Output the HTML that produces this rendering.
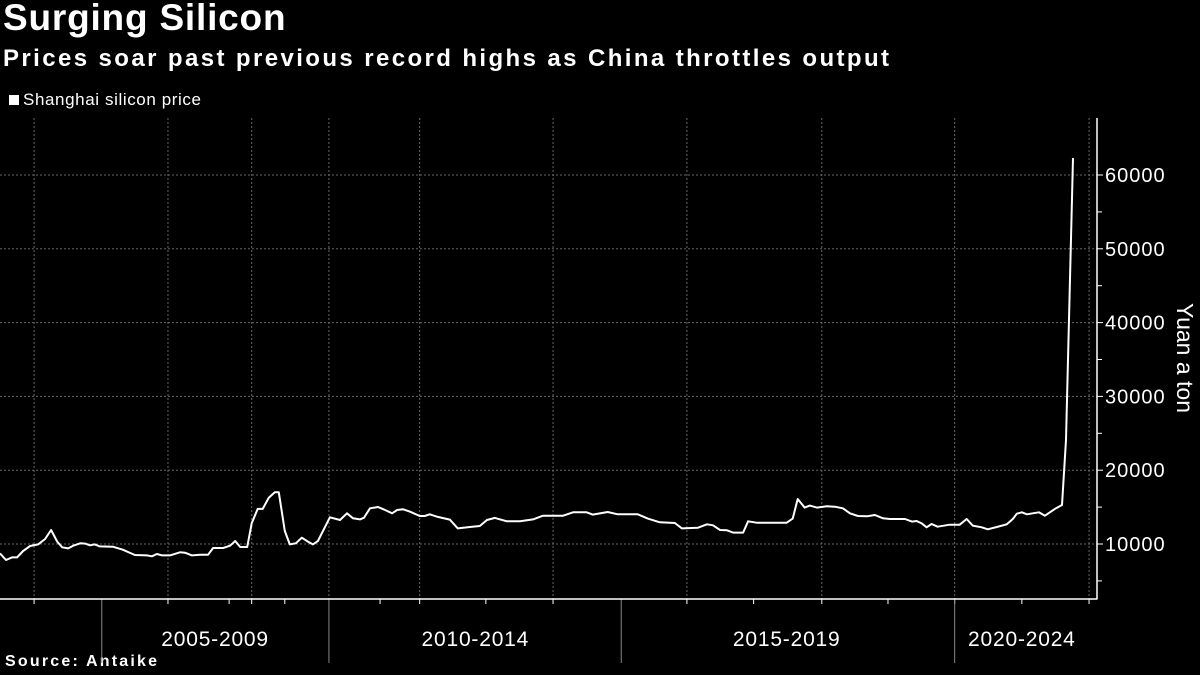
<!DOCTYPE html>
<html><head><meta charset="utf-8"><style>
html,body{margin:0;padding:0;background:#000;}
body{width:1200px;height:675px;overflow:hidden;font-family:"Liberation Sans",sans-serif;color:#fff;position:relative;}
.t{position:absolute;white-space:nowrap;}
</style></head><body>
<div class="t" style="left:3px;top:-3px;font-size:37px;font-weight:bold;letter-spacing:0.8px;">Surging Silicon</div>
<div class="t" style="left:3px;top:45px;font-size:24px;font-weight:bold;letter-spacing:2.4px;">Prices soar past previous record highs as China throttles output</div>
<div class="t" style="left:9px;top:90px;font-size:17px;letter-spacing:0.6px;"><span style="display:inline-block;width:10px;height:10px;background:#fff;margin-right:4px;"></span>Shanghai silicon price</div>
<div class="t" style="left:5px;top:653px;font-size:16px;font-weight:bold;letter-spacing:2.2px;">Source: Antaike</div>
<svg id="chart" width="1200" height="675" style="position:absolute;left:0;top:0;"></svg>
<script>
const dates=[2002.80,2002.92,2003.04,2003.14,2003.26,2003.40,2003.56,2003.70,2003.82,2003.94,2004.04,2004.16,2004.26,2004.40,2004.50,2004.59,2004.69,2004.79,2005.05,2005.25,2005.49,2005.73,2005.83,2005.93,2006.03,2006.19,2006.39,2006.49,2006.63,2006.79,2006.95,2007.05,2007.25,2007.39,2007.49,2007.59,2007.73,2007.82,2007.94,2008.04,2008.16,2008.28,2008.36,2008.48,2008.58,2008.70,2008.82,2008.94,2009.04,2009.14,2009.38,2009.58,2009.72,2009.84,2009.98,2010.06,2010.18,2010.34,2010.48,2010.62,2010.72,2010.84,2010.98,2011.17,2011.27,2011.37,2011.51,2011.77,2011.93,2012.17,2012.37,2012.51,2012.67,2012.91,2013.17,2013.43,2013.63,2014.03,2014.23,2014.50,2014.62,2014.92,2015.12,2015.52,2015.72,2015.96,2016.26,2016.40,2016.72,2016.90,2017.02,2017.16,2017.30,2017.42,2017.62,2017.72,2017.89,2018.49,2018.61,2018.71,2018.85,2018.95,2019.09,2019.29,2019.45,2019.61,2019.75,2019.91,2020.09,2020.25,2020.41,2020.55,2020.85,2020.99,2021.08,2021.18,2021.28,2021.38,2021.50,2021.74,2021.94,2022.08,2022.20,2022.38,2022.50,2022.68,2022.88,2023.00,2023.08,2023.18,2023.28,2023.52,2023.64,2023.84,2023.98,2024.06,2024.20];
const prices=[8730,7830,8190,8190,9050,9730,9950,10680,11900,10320,9550,9410,9770,10090,10050,9820,9950,9680,9640,9230,8510,8460,8330,8640,8460,8460,8870,8820,8460,8550,8550,9460,9460,9770,10410,9590,9590,12800,14750,14750,16280,17000,17000,11760,9950,10090,10860,10320,9950,10410,13620,13250,14160,13480,13340,13570,14840,15020,14610,14160,14610,14700,14380,13800,13800,14020,13710,13300,12120,12310,12440,13250,13530,13070,13070,13340,13840,13840,14290,14290,13980,14340,14020,14020,13440,12940,12850,12120,12210,12670,12530,11900,11850,11540,11540,13070,12890,12890,13440,16100,14930,15200,14930,15110,15060,14840,14160,13800,13750,13930,13480,13390,13390,13030,13120,12800,12260,12710,12350,12620,12620,13390,12490,12260,11990,12310,12670,13390,14110,14290,14020,14290,13840,14750,15290,24100,62300];
const yTicks=[10000,20000,30000,40000,50000,60000];
const yMinorTicks=[5000,15000,25000,35000,45000,55000];
const xGridDates=[2003.48,2006.15,2007.82,2009.36,2011.17,2013.83,2016.50,2019.19,2021.84,2024.52];
const xTickDates=[2003.48,2006.15,2007.37,2007.82,2008.48,2010.38,2011.17,2012.49,2013.83,2016.50,2017.83,2019.19,2020.51,2021.84,2023.18,2024.52];
const xMajorDates=[2004.83,2009.36,2015.19,2021.84];
const periodLabels=["2005-2009","2010-2014","2015-2019","2020-2024"];
const periodLabelDates=[2007.09,2012.28,2018.49,2023.18];

const X0=0,X1=1073,D0=2002.8,D1=2024.2;
function xs(d){return X0+(d-D0)/(D1-D0)*(X1-X0);}
function ys(v){return 544-(v-10000)*0.00738;}
const svg=document.getElementById('chart');
const NS='http://www.w3.org/2000/svg';
function mk(tag,attrs){const e=document.createElementNS(NS,tag);for(const k in attrs)e.setAttribute(k,attrs[k]);svg.appendChild(e);return e;}
const AX=1097,AY=599;
yTicks.forEach(v=>{
  const g=mk('line',{x1:0,x2:AX,y1:ys(v),y2:ys(v),stroke:'#666','stroke-width':1,'stroke-dasharray':'2,2'});
  
  
  const t=mk('line',{x1:AX,x2:AX+6,y1:ys(v),y2:ys(v),stroke:'#fff','stroke-width':1});
  
  
  const l=mk('text',{x:AX+8,y:ys(v)+7,fill:'#fff','font-size':20,'letter-spacing':1,'font-family':'Liberation Sans, sans-serif'});
  l.textContent=v;
  
  
});
yMinorTicks.forEach(v=>{
  const t=mk('line',{x1:AX,x2:AX+5,y1:ys(v),y2:ys(v),stroke:'#fff','stroke-width':1});
  
  
});
xGridDates.forEach(d=>{
  const g=mk('line',{x1:xs(d),x2:xs(d),y1:118,y2:AY,stroke:'#666','stroke-width':1,'stroke-dasharray':'2,2'});
  
  
});
xTickDates.forEach(d=>{
  const t=mk('line',{x1:xs(d),x2:xs(d),y1:AY,y2:AY+5,stroke:'#fff','stroke-width':1});
  
  
});
xMajorDates.forEach(d=>{
  const t=mk('line',{x1:xs(d),x2:xs(d),y1:AY,y2:663,stroke:'#888','stroke-width':1});
  
  
});
periodLabels.forEach((s,i)=>{
  const l=mk('text',{x:xs(periodLabelDates[i]),y:646,fill:'#fff','font-size':21,'letter-spacing':0.8,'text-anchor':'middle','font-family':'Liberation Sans, sans-serif'});
  l.textContent=s;
  
  
});
const ax=mk('line',{x1:0,x2:AX+0.5,y1:AY,y2:AY,stroke:'#fff','stroke-width':1.5});


const ay=mk('line',{x1:AX,x2:AX,y1:118,y2:AY,stroke:'#fff','stroke-width':1.5});


const yt=mk('text',{x:1177,y:358,fill:'#fff','font-size':23,'text-anchor':'middle',transform:'rotate(90 1177 358)','font-family':'Liberation Sans, sans-serif'});
yt.textContent='Yuan a ton';


const pts=dates.map((d,i)=>xs(d).toFixed(1)+','+ys(prices[i]).toFixed(1)).join(' ');
const line=mk('polyline',{points:pts,fill:'none',stroke:'#fff','stroke-width':2,'stroke-linejoin':'round'});


</script>
</body></html>
